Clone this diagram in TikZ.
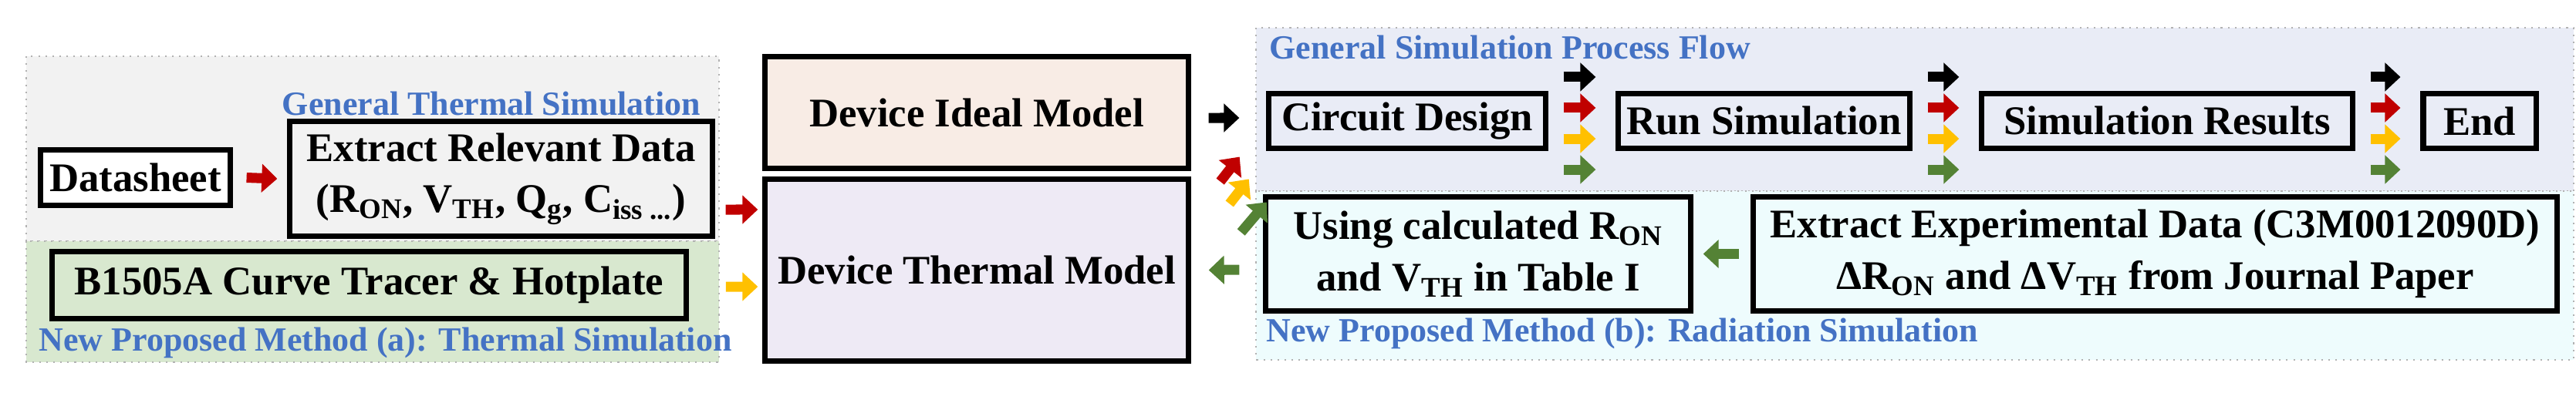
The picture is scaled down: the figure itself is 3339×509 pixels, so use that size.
\documentclass[tikz,border=0pt]{standalone}
\usepackage{fontspec}
\setmainfont{Liberation Serif}
\usetikzlibrary{arrows.meta}
\definecolor{lblue}{HTML}{4472C4}
\definecolor{rgray}{HTML}{F2F2F2}
\definecolor{rgreen}{HTML}{D8E8CF}
\definecolor{rup}{HTML}{E9ECF6}
\definecolor{rlow}{HTML}{EEFCFD}
\definecolor{fideal}{HTML}{F8ECE5}
\definecolor{ftherm}{HTML}{EEEAF5}
\definecolor{ared}{HTML}{C00000}
\definecolor{ayel}{HTML}{FFC000}
\definecolor{agrn}{HTML}{548235}
\tikzset{
  box/.style={draw=black, line width=2pt, align=center, inner sep=2pt,
    font=\fontsize{15}{19}\selectfont\bfseries},
  region/.style={draw=gray!60, dotted, line width=0.6pt},
  lbl/.style={text=lblue, font=\fontsize{12.5}{15}\selectfont\bfseries, inner sep=0pt},
  barrow/.style={line width=0.13cm, -{Triangle[length=0.2cm,width=0.36cm]}},
}
\begin{document}
\begin{tikzpicture}[x=0.01cm,y=-0.01cm]
\useasboundingbox (0,0) rectangle (3339,509);
% regions
\fill[rgray] (34,73) rectangle (932,313);
\draw[region] (34,73) rectangle (932,313);
\fill[rgreen] (34,313) rectangle (932,470);
\draw[region] (34,313) rectangle (932,470);
\fill[rup] (1628,36) rectangle (3336,248);
\draw[region] (1628,36) rectangle (3336,248);
\fill[rlow] (1628,248) rectangle (3336,467);
\draw[region] (1628,248) rectangle (3336,467);
% labels
\node[lbl] (l1) at (637,135) {General Thermal Simulation};
\node[lbl, anchor=west] (l2) at (50,445) {New Proposed Method (a): Thermal Simulation};
\node[lbl, anchor=west] (l3) at (1645,62) {General Simulation Process Flow};
\node[lbl, anchor=west] (l4) at (1641,433) {New Proposed Method (b): Radiation Simulation};
% boxes
\node[box, fill=white, minimum width=2.45cm, minimum height=0.71cm] (ds) at (175.5,230.5) {Datasheet};
\node[box, fill=rgray, minimum width=5.47cm, minimum height=1.48cm] (ex) at (649.5,232)
  {Extract Relevant Data\\(R\textsubscript{ON}, V\textsubscript{TH}, Q\textsubscript{g}, C\textsubscript{iss ...})};
\node[box, fill=rgreen, minimum width=8.21cm, minimum height=0.86cm] (bt) at (478.5,370) {B1505A Curve Tracer \& Hotplate};
\node[box, fill=fideal, minimum width=5.48cm, minimum height=1.44cm] (ideal) at (1266,146) {Device Ideal Model};
\node[box, fill=ftherm, minimum width=5.48cm, minimum height=2.35cm] (therm) at (1266,350.5) {Device Thermal Model};
\node[box, fill=rup, minimum width=3.58cm, minimum height=0.70cm] (cd) at (1824,157) {Circuit Design};
\node[box, fill=rup, minimum width=3.77cm, minimum height=0.70cm] (rs) at (2286.5,157) {Run Simulation};
\node[box, fill=rup, minimum width=4.80cm, minimum height=0.70cm] (sr) at (2809,157) {Simulation Results};
\node[box, fill=rup, minimum width=1.46cm, minimum height=0.70cm] (end) at (3214,157) {End};
\node[box, fill=rlow, minimum width=5.50cm, minimum height=1.47cm] (uc) at (1916,329.5)
  {Using calculated R\textsubscript{ON}\\and V\textsubscript{TH} in Table I};
\node[box, fill=rlow, minimum width=10.41cm, minimum height=1.47cm] (ee) at (2793.5,329.5)
  {Extract Experimental Data (C3M0012090D)\\ΔR\textsubscript{ON} and ΔV\textsubscript{TH} from Journal Paper};
% arrows
\draw[barrow, ared] ([xshift=0.18cm]ds.east) -- ([xshift=-0.13cm]ex.west);
\draw[barrow, ared] ([xshift=0.14cm,yshift=-0.40cm]ex.east) -- ([xshift=-0.06cm,yshift=0.785cm]therm.west);
\draw[barrow, ayel] ([xshift=0.48cm,yshift=-0.02cm]bt.east) -- ([xshift=-0.06cm,yshift=-0.215cm]therm.west);
\draw[barrow, black] ([xshift=0.23cm,yshift=-0.07cm]ideal.east) -- ([xshift=-0.35cm,yshift=0.04cm]cd.west);
\draw[barrow, ared] ([xshift=0.38cm,yshift=-0.14cm]ideal.south east) -- ([xshift=0.63cm,yshift=0.18cm]ideal.south east);
\draw[barrow, ayel] ([xshift=0.50cm,yshift=-0.35cm]therm.north east) -- ([xshift=0.75cm,yshift=-0.03cm]therm.north east);
\draw[barrow, agrn] ([xshift=0.65cm,yshift=-0.72cm]therm.north east) -- ([xshift=0.98cm,yshift=-0.33cm]therm.north east);
\draw[barrow, agrn] ([xshift=-0.31cm,yshift=-0.205cm]uc.west) -- ([xshift=0.23cm]therm.east);
\draw[barrow, agrn] ([xshift=-0.15cm]ee.west) -- ([xshift=0.13cm]uc.east);
\foreach \a/\b in {cd/rs, rs/sr, sr/end}{
  \draw[barrow, black] ([xshift=0.2cm,yshift=0.57cm]\a.east) -- ([xshift=-0.26cm,yshift=0.57cm]\b.west);
  \draw[barrow, ared] ([xshift=0.2cm,yshift=0.17cm]\a.east) -- ([xshift=-0.26cm,yshift=0.17cm]\b.west);
  \draw[barrow, ayel] ([xshift=0.2cm,yshift=-0.23cm]\a.east) -- ([xshift=-0.26cm,yshift=-0.23cm]\b.west);
  \draw[barrow, agrn] ([xshift=0.2cm,yshift=-0.63cm]\a.east) -- ([xshift=-0.26cm,yshift=-0.63cm]\b.west);
}
\end{tikzpicture}
\end{document}
